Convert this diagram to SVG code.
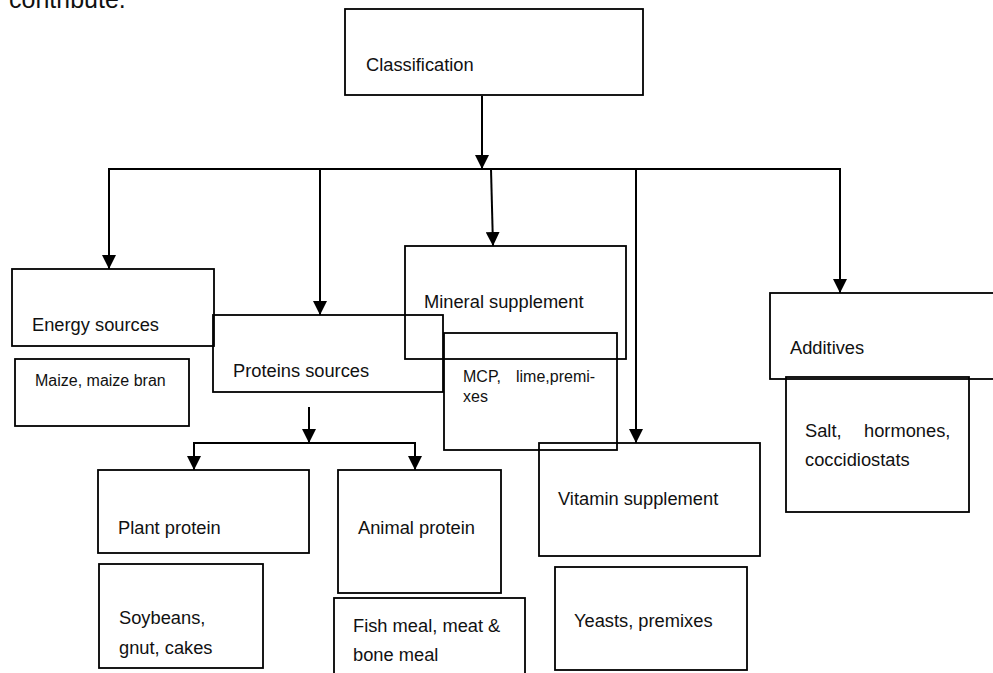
<svg xmlns="http://www.w3.org/2000/svg" width="993" height="673" viewBox="0 0 993 673">
<defs>
<style>
.box{fill:none;stroke:#000;stroke-width:1.8}
.t{font-family:"Liberation Sans",Arial,sans-serif;font-size:18.3px;fill:#111}
.s{font-size:16px}
.c{fill:none;stroke:#000;stroke-width:2}
</style>
<marker id="ah" markerUnits="userSpaceOnUse" markerWidth="14" markerHeight="14" refX="14" refY="7" orient="auto">
<path d="M0,0 L14,7 L0,14 z" fill="#000"/>
</marker>
</defs>
<rect width="993" height="673" fill="#fff"/>
<text class="t" x="9" y="8" style="font-size:25px">contribute.</text>
<g id="connectors">
<line class="c" x1="482" y1="96" x2="482" y2="169" marker-end="url(#ah)"/>
<line class="c" x1="108" y1="169" x2="841" y2="169"/>
<line class="c" x1="109" y1="169" x2="109" y2="269" marker-end="url(#ah)"/>
<line class="c" x1="320" y1="169" x2="320" y2="315" marker-end="url(#ah)"/>
<line class="c" x1="491" y1="169" x2="493" y2="246" marker-end="url(#ah)"/>
<line class="c" x1="636" y1="169" x2="636" y2="443" marker-end="url(#ah)"/>
<line class="c" x1="840" y1="169" x2="840" y2="293" marker-end="url(#ah)"/>
<line class="c" x1="309" y1="407" x2="309" y2="443" marker-end="url(#ah)"/>
<line class="c" x1="193" y1="443" x2="416" y2="443"/>
<line class="c" x1="194" y1="443" x2="194" y2="470" marker-end="url(#ah)"/>
<line class="c" x1="415" y1="443" x2="415" y2="470" marker-end="url(#ah)"/>
</g>
<g id="classification"><rect class="box" x="345" y="9" width="298" height="86"/><text class="t" x="366" y="71">Classification</text></g>
<g id="energy"><rect class="box" x="12" y="269" width="202" height="77"/><text class="t" x="32" y="331">Energy sources</text></g>
<g id="maize"><rect class="box" x="15" y="359" width="174" height="67"/><text class="t s" x="35" y="386">Maize, maize bran</text></g>
<g id="proteins"><rect class="box" x="213" y="315" width="230" height="77"/><text class="t" x="233" y="377">Proteins sources</text></g>
<g id="mineral"><rect class="box" x="405" y="246" width="221" height="113"/><text class="t" x="424" y="308">Mineral supplement</text></g>
<g id="mcp"><rect class="box" x="444" y="333" width="173" height="117"/><text class="t s" x="463" y="382">MCP,<tspan x="516">lime,premi-</tspan><tspan x="463" y="402">xes</tspan></text></g>
<g id="vitamin"><rect class="box" x="539" y="443" width="221" height="113"/><text class="t" x="558" y="505">Vitamin supplement</text></g>
<g id="yeasts"><rect class="box" x="555" y="567" width="192" height="103"/><text class="t" x="574" y="627">Yeasts, premixes</text></g>
<g id="additives"><rect class="box" x="770" y="293" width="240" height="86"/><text class="t" x="790" y="354">Additives</text></g>
<g id="salt"><rect class="box" x="786" y="377" width="183" height="135"/><text class="t" x="805" y="437">Salt,<tspan x="864">hormones,</tspan><tspan x="805" y="466">coccidiostats</tspan></text></g>
<g id="plant"><rect class="box" x="98" y="470" width="211" height="83"/><text class="t" x="118" y="534">Plant protein</text></g>
<g id="soybeans"><rect class="box" x="99" y="564" width="164" height="104"/><text class="t" x="119" y="624">Soybeans,<tspan x="119" y="654">gnut, cakes</tspan></text></g>
<g id="animal"><rect class="box" x="338" y="470" width="163" height="123"/><text class="t" x="358" y="534">Animal protein</text></g>
<g id="fish"><rect class="box" x="334" y="598" width="191" height="90"/><text class="t" x="353" y="632">Fish meal, meat &amp;<tspan x="353" y="661">bone meal</tspan></text></g>
</svg>
